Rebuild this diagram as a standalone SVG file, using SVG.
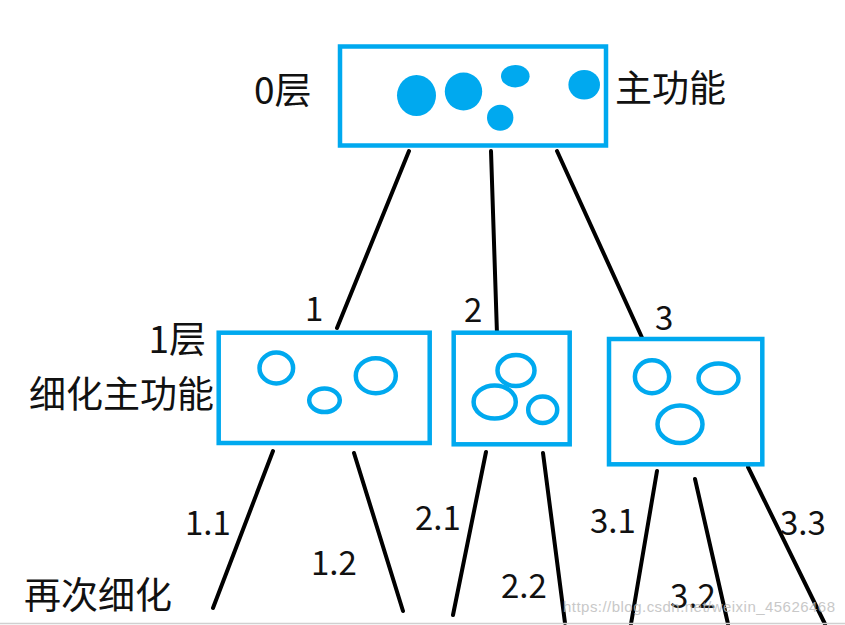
<svg xmlns="http://www.w3.org/2000/svg" width="845" height="625" viewBox="0 0 845 625">
<style>
.box{fill:#fff;stroke:#00A9EF;stroke-width:4.5}
.dot{fill:#00A9EF}
.ring{fill:none;stroke:#00A9EF;stroke-width:4.5}
.ln{stroke:#000;stroke-width:4;stroke-linecap:round;fill:none}
.t{font-family:"Noto Sans CJK SC","Noto Sans",sans-serif;font-size:37px;fill:#111}
.n{font-family:"Noto Sans CJK SC","Noto Sans",sans-serif;font-size:33px;fill:#111}
.wm{font-family:"Liberation Sans",Arial,sans-serif;font-size:15px;fill:#bbb;opacity:0.8}
</style>
<rect width="845" height="625" fill="#fff"/>
<g id="connectors">
<line class="ln" x1="409" y1="151" x2="337" y2="328"/>
<line class="ln" x1="491" y1="151" x2="497" y2="334"/>
<line class="ln" x1="557" y1="151" x2="644" y2="342"/>
<line class="ln" x1="273" y1="451" x2="213" y2="608"/>
<line class="ln" x1="354" y1="453" x2="403" y2="611"/>
<line class="ln" x1="486" y1="452" x2="453" y2="615"/>
<line class="ln" x1="543" y1="453" x2="565" y2="623"/>
<line class="ln" x1="657" y1="471" x2="631" y2="624"/>
<line class="ln" x1="695" y1="479" x2="728" y2="624"/>
<line class="ln" x1="748" y1="467" x2="825" y2="624"/>
</g>
<g id="node0">
<rect class="box" x="340" y="46.5" width="266" height="99"/>
<ellipse class="dot" cx="416.5" cy="95.5" rx="19.5" ry="20.5"/>
<ellipse class="dot" cx="463.5" cy="91.5" rx="18.7" ry="19"/>
<ellipse class="dot" cx="515.3" cy="76.2" rx="14.3" ry="11.2"/>
<ellipse class="dot" cx="500.2" cy="117.7" rx="13.2" ry="13"/>
<ellipse class="dot" cx="584.2" cy="84.8" rx="15.8" ry="14.8"/>
<text class="t" x="254" y="104">0层</text>
<text class="t" x="615" y="102">主功能</text>
</g>
<g id="node1">
<rect class="box" x="218.7" y="332.7" width="211" height="110.3"/>
<ellipse class="ring" cx="276.3" cy="368" rx="16.8" ry="15.5"/>
<ellipse class="ring" cx="324.5" cy="400.3" rx="15.3" ry="11.8"/>
<ellipse class="ring" cx="375.8" cy="375.7" rx="20" ry="17.5"/>
<text class="t" x="206" y="353" text-anchor="end">1层</text>
<text class="t" x="214" y="408" text-anchor="end">细化主功能</text>
</g>
<g id="node2">
<rect class="box" x="453.7" y="332.7" width="116" height="111.6"/>
<ellipse class="ring" cx="516" cy="370.5" rx="18.5" ry="15.6"/>
<ellipse class="ring" cx="494.7" cy="402" rx="21.1" ry="16.5"/>
<ellipse class="ring" cx="542.7" cy="409.8" rx="14.5" ry="13.3"/>
</g>
<g id="node3">
<rect class="box" x="609" y="339" width="153.3" height="125.3"/>
<ellipse class="ring" cx="652" cy="376.7" rx="17.1" ry="16.5"/>
<ellipse class="ring" cx="718.5" cy="378.3" rx="20" ry="14.8"/>
<ellipse class="ring" cx="680" cy="424.3" rx="22.5" ry="18.8"/>
</g>
<g id="labels">
<text class="n" x="305" y="321">1</text>
<text class="n" x="464" y="322">2</text>
<text class="n" x="655" y="330">3</text>
<text class="n" x="185" y="535">1.1</text>
<text class="n" x="311" y="575">1.2</text>
<text class="n" x="415" y="530">2.1</text>
<text class="n" x="501" y="598">2.2</text>
<text class="n" x="590" y="533">3.1</text>
<text class="n" x="670" y="608">3.2</text>
<text class="n" x="780" y="535">3.3</text>
<text class="t" x="24" y="609">再次细化</text>
</g>
<text class="wm" x="563" y="612" textLength="272">https://blog.csdn.net/weixin_45626468</text>
<line x1="0" y1="623.5" x2="845" y2="623.5" stroke="#d0d0d0" stroke-width="1.5"/>
</svg>
